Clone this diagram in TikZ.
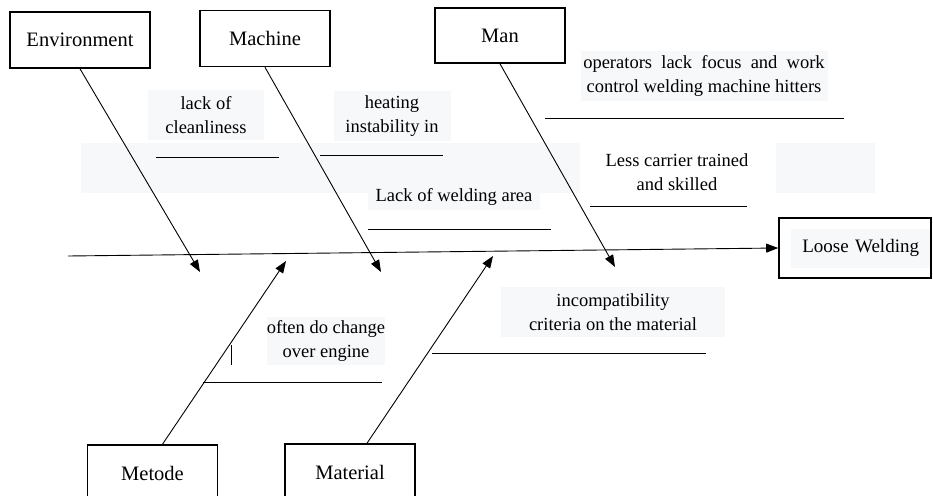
\documentclass[tikz,border=0pt]{standalone}
\usepackage{fontspec}
\setmainfont{Liberation Serif}
\usepackage{xcolor}
\usepackage{tikz}
\usetikzlibrary{arrows.meta}
\usetikzlibrary{positioning}
\definecolor{bgcell}{RGB}{247,248,250}

\begin{document}
\begin{tikzpicture}[x=1pt, y=-1pt,
  catbox/.style={draw, line width=1.6pt, minimum width=130pt, minimum height=56pt, font=\fontsize{20.5}{24}\selectfont},
  cause/.style={line width=0.9pt, -{Triangle[length=12pt,width=9pt]}},
  subline/.style={line width=0.9pt},
  note/.style={fill=bgcell, align=center, inner sep=0pt, font=\fontsize{18.5}{24.5}\selectfont}]
  \useasboundingbox (0,0) rectangle (933,495);

  % Fondo claro
  \fill[bgcell] (81,143) rectangle (580,193);
  \fill[bgcell] (776,143) rectangle (875,193);
  \fill[bgcell] (791,229) rectangle (931,268);

  % Cajas de categorias
  \node[catbox, minimum width=140pt] (env) at (80,40) {Environment};
  \node[catbox] (mac) at (265,38.5) {Machine};
  \node[catbox, minimum height=55pt] (man) at (500,35.5) {Man};
  \node[catbox] (met) at (152.5,473) {Metode};
  \node[catbox] (mat) at (350,472) {Material};
  \node[draw, line width=1.6pt, minimum width=152pt, minimum height=60pt, text width=128pt, align=right, inner sep=0pt,
        font=\fontsize{19}{24}\selectfont] (lw) at (855,248) {Loose Welding};

  % Puntas de flecha (extremos libres)
  \coordinate (tail) at (68,256);
  \coordinate (envtip) at (200,272);
  \coordinate (mactip) at (381,272);
  \coordinate (mantip) at (615,267);
  \coordinate (mettip) at (286,261);
  \coordinate (mattip) at (493,256);

  % Espina y causas
  \draw[cause] (tail) -- (lw.west);
  \draw[cause] (env.south) -- (envtip);
  \draw[cause] (mac.south) -- (mactip);
  \draw[cause] (man.south) -- (mantip);
  \draw[cause] ([xshift=10pt]met.north) -- (mettip);
  \draw[cause] ([xshift=17pt]mat.north) -- (mattip);

  % Subcausas
  \draw[subline] (156,157) -- (279,157);
  \draw[subline] (320,155) -- (443,155);
  \draw[subline] (368,229) -- (551,229);
  \draw[subline] (545,118) -- (844,118);
  \draw[subline] (590,206) -- (747,206);
  \draw[subline] (203,382) -- (382,382);
  \draw[subline] (231,345) -- (231,365);
  \draw[subline] (432,353) -- (706,353);

  % Textos
  \node[note, minimum width=116pt, minimum height=50pt] (clean) at (206,115) {lack of\\cleanliness};
  \node[note, minimum width=117pt, minimum height=50pt] (heat) at (392,116) {heating\\instability in};
  \node[note, minimum width=172pt, minimum height=26pt] (area) at (454,197) {Lack of welding area};
  \node[note, minimum width=247pt, minimum height=50pt] (focus) at (704,76) {operators\ \ lack\ \ focus\ \ and\ \ work\\control welding machine hitters};
  \node[note, fill=white] (train) at (677,172) {Less carrier trained\\and skilled};
  \node[note, minimum width=117pt, minimum height=48pt] (change) at (326,341) {often do change\\over engine};
  \node[note, minimum width=224pt, minimum height=50pt] (crit) at (613,312) {incompatibility\\criteria on the material};
\end{tikzpicture}
\end{document}
